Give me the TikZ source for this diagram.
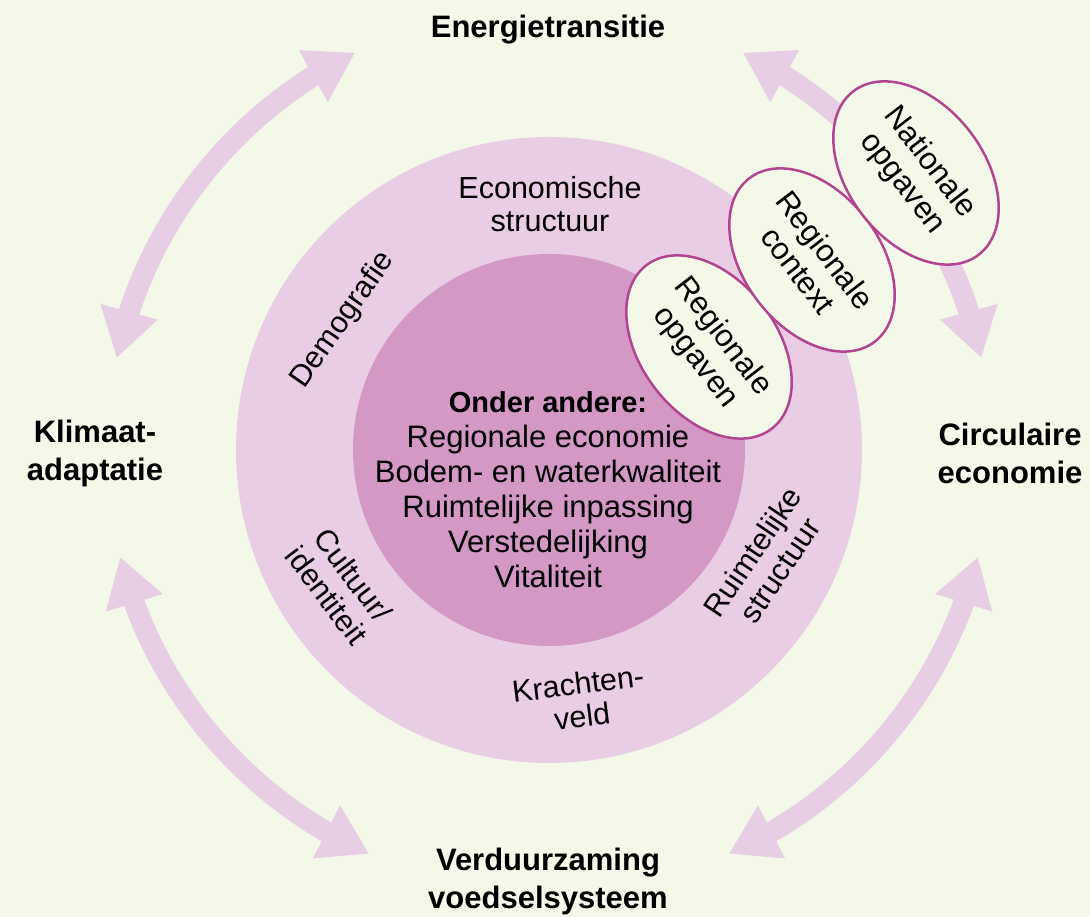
\documentclass[tikz,border=0pt]{standalone}
\usepackage{fontspec}
\setmainfont{Liberation Sans}
\usetikzlibrary{arrows.meta,bending,shapes.geometric,calc}
\definecolor{bgc}{RGB}{244,248,232}
\definecolor{ringc}{RGB}{233,205,229}
\definecolor{innerc}{RGB}{211,152,196}
\definecolor{arrowc}{RGB}{232,206,228}
\definecolor{rimc}{RGB}{178,68,145}
\begin{document}
\begin{tikzpicture}[x=1pt,y=1pt,
  bigarrow/.style={draw=arrowc, line width=21pt,
    {Triangle[width=56pt,length=48pt]}-{Triangle[width=56pt,length=48pt]}},
  theme/.style={font=\fontsize{31}{38}\selectfont\bfseries, align=center, inner sep=0pt},
  ringlabel/.style={font=\fontsize{30.5}{33}\selectfont, align=center, inner sep=0pt},
  bubble/.style={ellipse, draw=rimc, fill=bgc, line width=2.5pt,
    minimum width=206pt, minimum height=136pt, inner sep=0pt,
    rotate=-52.5, align=center, font=\fontsize{31}{34}\selectfont},
  disc/.style={circle, inner sep=0pt, draw=none},
]
\useasboundingbox (0,0) rectangle (1090,917);
\fill[bgc] (0,0) rectangle (1090,917);
\coordinate (C) at (549,467);

% arc arrows
\coordinate (tlA) at ($(C)+(168:442)$);
\coordinate (trA) at ($(C)+(12:442)$);
\coordinate (blA) at ($(C)+(194:442)$);
\coordinate (brA) at ($(C)+(294:442)$);
\draw[bigarrow] (tlA) arc[start angle=168, end angle=116, radius=442];
\draw[bigarrow] (trA) arc[start angle=12, end angle=64, radius=442];
\draw[bigarrow] (blA) arc[start angle=194, end angle=246, radius=442];
\draw[bigarrow] (brA) arc[start angle=294, end angle=346, radius=442];

% circles
\node[disc, fill=ringc, minimum size=626pt] (outer) at (C) {};
\node[disc, fill=innerc, minimum size=392pt] (inner) at (C) {};

% theme labels
\node[theme] (energie) at (548,887) {Energietransitie};
\node[theme] (klimaat) at (95,464) {Klimaat-\\adaptatie};
\node[theme] (circulair) at (1010,464) {Circulaire\\economie};
\node[theme] (voedsel) at (548,36) {Verduurzaming\\voedselsysteem};

% ring labels
\node[ringlabel] (econ) at (550,713) {Economische\\structuur};
\node[ringlabel, rotate=55] (demo) at (343,597) {Demografie};
\node[ringlabel, rotate=-53] (cult) at (340,332) {Cultuur/\\identiteit};
\node[ringlabel, rotate=56] (ruimte) at (766,356) {Ruimtelijke\\structuur};
\node[ringlabel, rotate=7] (kracht) at (580,217) {Krachten-\\veld};

% centre text
\node[align=center, inner sep=0pt, font=\fontsize{31}{35}\selectfont] (centre) at (548,427)
  {{\fontsize{29}{35}\selectfont\bfseries Onder andere:}\\
   Regionale economie\\
   Bodem- en waterkwaliteit\\
   Ruimtelijke inpassing\\
   Verstedelijking\\
   Vitaliteit};

% bubbles
\node[bubble] (regop) at (709,570) {Regionale\\opgaven};
\node[bubble] (regcon) at (812,657) {Regionale\\context};
\node[bubble] (natop) at (916,744) {Nationale\\opgaven};
\end{tikzpicture}
\end{document}
